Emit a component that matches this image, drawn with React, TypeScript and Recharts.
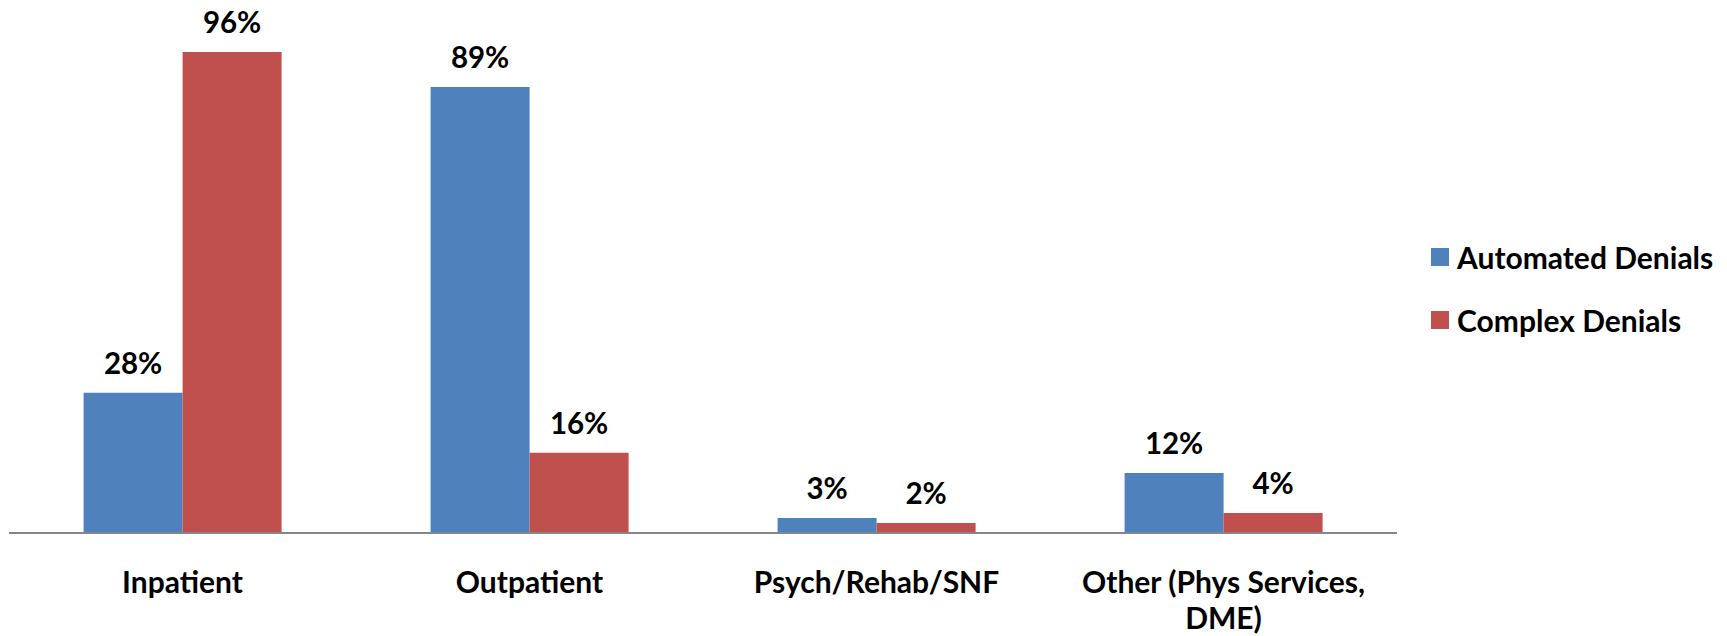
import React from 'react';
import { BarChart, Bar, XAxis, YAxis, LabelList } from 'recharts';

const categories = ['Inpatient', 'Outpatient', 'Psych/Rehab/SNF', 'Other (Phys Services, DME)'];
const automated = [28, 89, 3, 12];
const complex = [96, 16, 2, 4];
const seriesNames = ['Automated Denials', 'Complex Denials'];

const FONT = 'Lato, "Open Sans", sans-serif';
const BLUE = '#4F81BD';
const RED = '#C0504D';
const COLORS = [BLUE, RED];

const data = categories.map((name, i) => ({
  name,
  automated: automated[i],
  complex: complex[i],
}));

// simple greedy word wrap by character count
const wrap = (s: string, max: number) => {
  const lines: string[] = [];
  let cur = '';
  s.split(' ').forEach((w) => {
    const next = cur ? `${cur} ${w}` : w;
    if (next.length > max && cur) {
      lines.push(cur);
      cur = w;
    } else {
      cur = next;
    }
  });
  if (cur) lines.push(cur);
  return lines;
};

const CategoryTick = (props: any) => {
  const { x, y, payload } = props;
  const lines = wrap(String(payload.value), 22);
  return (
    <text
      x={x}
      y={y + 52}
      textAnchor="middle"
      style={{ fontFamily: FONT, fontWeight: 700, fontSize: 30, fill: '#000' }}
    >
      {lines.map((l, i) => (
        <tspan key={i} x={x} dy={i === 0 ? 0 : 36}>
          {l}
        </tspan>
      ))}
    </text>
  );
};

const labelStyle = { fontFamily: FONT, fontWeight: 700, fontSize: 29.5, fill: '#000' };

const App: React.FC = () => {
  return (
    <div style={{ position: 'absolute', left: 0, top: 0, width: 1727, height: 636, background: '#fff' }}>
      <BarChart
        width={1727}
        height={636}
        data={data}
        margin={{ top: 32, right: 330, bottom: 23, left: 9 }}
        barCategoryGap="21.5%"
        barGap={0}
      >
        <XAxis
          dataKey="name"
          height={80}
          tickLine={false}
          axisLine={{ stroke: '#868686', strokeWidth: 2 }}
          tick={<CategoryTick />}
          interval={0}
        />
        <YAxis hide domain={[0, 100]} />
        <Bar dataKey="automated" name={seriesNames[0]} fill={BLUE} isAnimationActive={false}>
          <LabelList dataKey="automated" position="top" offset={19} formatter={(v: any) => `${v}%`} style={labelStyle} />
        </Bar>
        <Bar dataKey="complex" name={seriesNames[1]} fill={RED} isAnimationActive={false}>
          <LabelList dataKey="complex" position="top" offset={19} formatter={(v: any) => `${v}%`} style={labelStyle} />
        </Bar>
      </BarChart>
      <div
        style={{
          position: 'absolute',
          left: 1431,
          top: 225,
          fontFamily: FONT,
          fontWeight: 700,
          fontSize: 30,
          color: '#000',
        }}
      >
        {seriesNames.map((s, i) => (
          <div key={s} style={{ display: 'flex', alignItems: 'center', height: 63, whiteSpace: 'nowrap' }}>
            <div style={{ width: 18, height: 18, background: COLORS[i], marginRight: 8 }} />
            <span>{s}</span>
          </div>
        ))}
      </div>
    </div>
  );
};

export default App;
